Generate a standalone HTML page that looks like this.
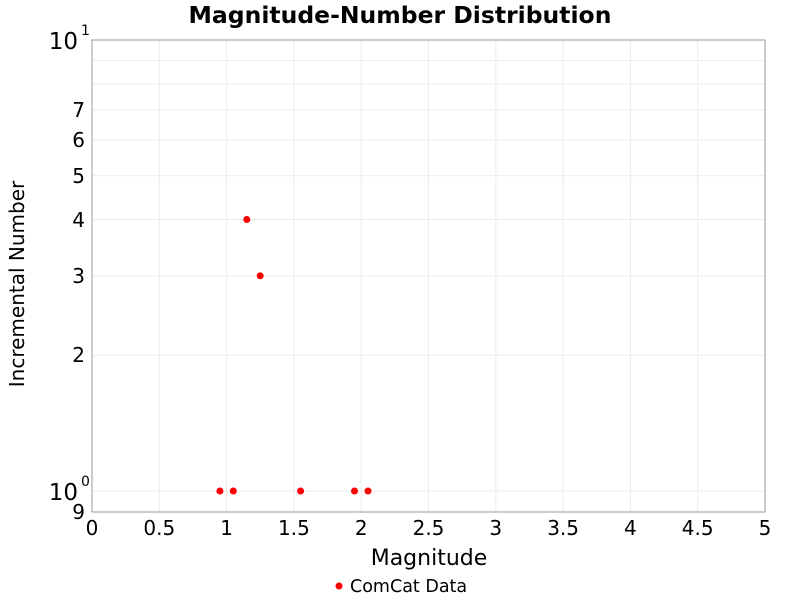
<!DOCTYPE html>
<html><head><style>body{margin:0;background:#fff}</style></head><body>
<svg width="800" height="600" xmlns="http://www.w3.org/2000/svg" font-family="DejaVu Sans, Liberation Sans, sans-serif">
<rect width="800" height="600" fill="#fff"/>
<g stroke="#ebebeb" stroke-width="1">
<line x1="159.3" y1="40" x2="159.3" y2="512"/><line x1="226.6" y1="40" x2="226.6" y2="512"/><line x1="293.9" y1="40" x2="293.9" y2="512"/><line x1="361.2" y1="40" x2="361.2" y2="512"/><line x1="428.5" y1="40" x2="428.5" y2="512"/><line x1="495.8" y1="40" x2="495.8" y2="512"/><line x1="563.1" y1="40" x2="563.1" y2="512"/><line x1="630.4" y1="40" x2="630.4" y2="512"/><line x1="697.7" y1="40" x2="697.7" y2="512"/>
<line x1="92" y1="491" x2="765" y2="491"/><line x1="92" y1="355.2" x2="765" y2="355.2"/><line x1="92" y1="275.8" x2="765" y2="275.8"/><line x1="92" y1="219.5" x2="765" y2="219.5"/><line x1="92" y1="175.8" x2="765" y2="175.8"/><line x1="92" y1="140.1" x2="765" y2="140.1"/><line x1="92" y1="109.9" x2="765" y2="109.9"/><line x1="92" y1="83.7" x2="765" y2="83.7"/><line x1="92" y1="60.6" x2="765" y2="60.6"/>
</g>
<rect x="92" y="40" width="673" height="472" fill="none" stroke="#999"/>
<text x="400" y="23" text-anchor="middle" font-size="23.5" font-weight="bold">Magnitude-Number Distribution</text>
<g font-size="20" text-anchor="middle">
<text x="92" y="535">0</text><text x="159.3" y="535">0.5</text><text x="226.6" y="535">1</text><text x="293.9" y="535">1.5</text><text x="361.2" y="535">2</text><text x="428.5" y="535">2.5</text><text x="495.8" y="535">3</text><text x="563.1" y="535">3.5</text><text x="630.4" y="535">4</text><text x="697.7" y="535">4.5</text><text x="765" y="535">5</text>
</g>
<text x="429" y="565" text-anchor="middle" font-size="22">Magnitude</text>
<g font-size="20" text-anchor="end">
<text x="85" y="362">2</text><text x="85" y="283">3</text><text x="85" y="227">4</text><text x="85" y="183">5</text><text x="85" y="147">6</text><text x="85" y="117">7</text><text x="85" y="519">9</text>
</g>
<text x="78" y="500" text-anchor="end" font-size="23">10</text><text x="81" y="486" font-size="14">0</text>
<text x="78" y="49" text-anchor="end" font-size="23">10</text><text x="81" y="35" font-size="14">1</text>
<text transform="translate(24,284) rotate(-90)" text-anchor="middle" font-size="20">Incremental Number</text>
<g fill="#f00">
<circle cx="219.9" cy="491" r="3.5"/><circle cx="233.3" cy="491" r="3.5"/><circle cx="246.8" cy="219.5" r="3.5"/><circle cx="260.2" cy="275.8" r="3.5"/><circle cx="300.6" cy="491" r="3.5"/><circle cx="354.5" cy="491" r="3.5"/><circle cx="368" cy="491" r="3.5"/>
<circle cx="339" cy="586" r="3.5"/>
</g>
<text x="350" y="592" font-size="17.5">ComCat Data</text>
</svg>
</body></html>
